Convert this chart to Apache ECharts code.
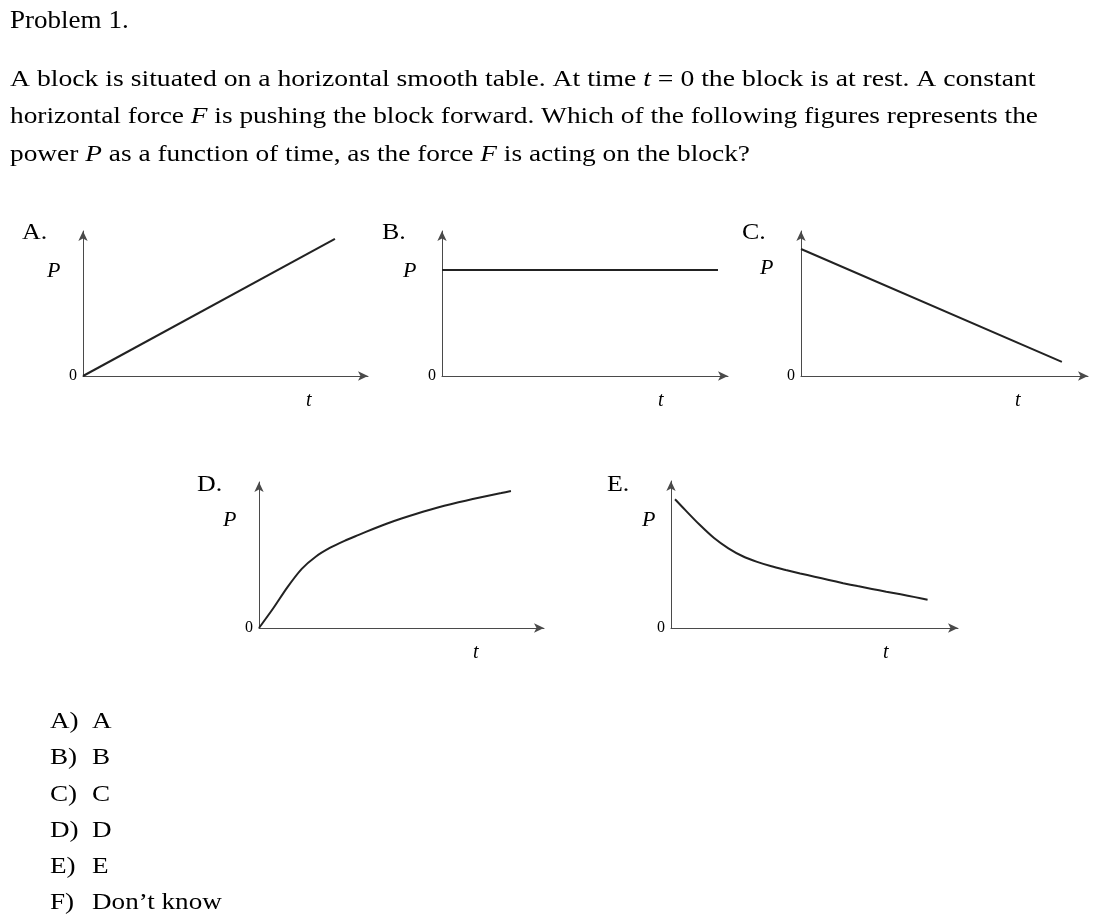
<!DOCTYPE html>
<html>
<head>
<meta charset="utf-8">
<script src="https://cdn.jsdelivr.net/npm/echarts@6/dist/echarts.min.js"></script>
<style>
html,body{margin:0;padding:0;background:#fff;}
#main{width:1109px;height:923px;}
</style>
</head>
<body>
<div id="main"></div>
<script>
// ---- data (axes run 0..10 in arbitrary units) ----
const panelNames = ['A.', 'B.', 'C.', 'D.', 'E.'];
const tA = [0, 8.84];
const pA = [0, 9.45];
const tB = [0, 9.65];
const pB = [7.31, 7.31];
const tC = [0, 9.09];
const pC = [8.76, 0.97];
const tD = [0, 0.5, 1.0, 1.5, 2.0, 2.5, 3.0, 3.5, 4.0, 4.5, 5.0, 5.5, 6.0, 6.5, 7.0, 7.5, 8.0, 8.5, 8.84];
const pD = [0, 1.35, 2.8, 4.05, 4.9, 5.5, 5.97, 6.38, 6.78, 7.16, 7.5, 7.81, 8.1, 8.37, 8.61, 8.83, 9.04, 9.24, 9.38];
const tE = [0.14, 0.5, 1.0, 1.5, 2.0, 2.5, 3.0, 3.5, 4.0, 4.5, 5.0, 5.5, 6.0, 6.5, 7.0, 7.5, 8.0, 8.5, 8.94];
const pE = [8.76, 8.02, 7.02, 6.12, 5.42, 4.88, 4.5, 4.2, 3.95, 3.71, 3.49, 3.27, 3.05, 2.85, 2.66, 2.47, 2.29, 2.1, 1.92];
const answers = [['A)', 'A'], ['B)', 'B'], ['C)', 'C'], ['D)', 'D'], ['E)', 'E'], ['F)', 'Don\u2019t know']];

const seriesT = [tA, tB, tC, tD, tE];
const seriesP = [pA, pB, pC, pD, pE];
const smoothFlags = [false, false, false, true, true];

// ---- layout ----
const grids = [
  {left: 83,  top: 231, width: 285, height: 145},
  {left: 442, top: 231, width: 286, height: 145},
  {left: 801, top: 231, width: 287, height: 145},
  {left: 259, top: 482, width: 285, height: 146},
  {left: 671, top: 481, width: 287, height: 147}
];
const labelPos = [
  {name: [22, 233], P: [47, 271], t: [306, 401]},
  {name: [382, 233], P: [403, 271], t: [658, 401]},
  {name: [742, 233], P: [760, 268], t: [1015, 401]},
  {name: [197, 485], P: [223, 520], t: [473, 653]},
  {name: [607, 485], P: [642, 520], t: [883, 653]}
];

const SERIF = '"Liberation Serif", "Times New Roman", serif';
const axisColor = '#4a4a4a';

function txt(x, y, text, size, opts) {
  opts = opts || {};
  return {
    type: 'text', x: x, y: y, silent: true,
    scaleX: opts.scaleX || 1,
    style: {
      text: text,
      fill: '#000',
      font: (opts.italic ? 'italic ' : '') + size + 'px ' + SERIF,
      verticalAlign: 'middle',
      align: opts.align || 'left',
      rich: {
        i: {fontStyle: 'italic', fontSize: size, fontFamily: SERIF, fill: '#000'}
      }
    }
  };
}

const xAxes = [], yAxes = [], series = [], graphics = [];
grids.forEach((g, k) => {
  xAxes.push({
    type: 'value', gridIndex: k, min: 0, max: 10, interval: 10,
    axisLine: {show: true, onZero: false, symbol: ['none', 'arrow'], symbolSize: [7, 10],
      lineStyle: {color: axisColor, width: 1}},
    axisTick: {show: false}, axisLabel: {show: false}, splitLine: {show: false}
  });
  yAxes.push({
    type: 'value', gridIndex: k, min: 0, max: 10, interval: 10,
    axisLine: {show: true, onZero: false, symbol: ['none', 'arrow'], symbolSize: [7, 10],
      lineStyle: {color: axisColor, width: 1}},
    axisTick: {show: false},
    axisLabel: {show: true, margin: 6, fontFamily: SERIF, fontSize: 16, color: '#000',
      formatter: v => (v === 0 ? '0' : '')},
    splitLine: {show: false}
  });
  series.push({
    type: 'line', xAxisIndex: k, yAxisIndex: k,
    data: seriesT[k].map((t, i) => [t, seriesP[k][i]]),
    showSymbol: false, smooth: smoothFlags[k] ? 0.3 : false,
    lineStyle: {color: '#222', width: 2}, silent: true, animation: false
  });
  const lp = labelPos[k];
  graphics.push(txt(lp.name[0], lp.name[1], panelNames[k], 24, {scaleX: 1.08}));
  graphics.push(txt(lp.P[0], lp.P[1], 'P', 22, {italic: true}));
  graphics.push(txt(lp.t[0], lp.t[1], 't', 20, {italic: true}));
});

// header text
graphics.push(txt(10, 21, 'Problem 1.', 26, {scaleX: 1.04}));
graphics.push(txt(10, 80, 'A block is situated on a horizontal smooth table. At time {i|t} = 0 the block is at rest. A constant', 24, {scaleX: 1.153}));
graphics.push(txt(10, 117, 'horizontal force {i|F} is pushing the block forward. Which of the following figures represents the', 24, {scaleX: 1.14}));
graphics.push(txt(10, 155, 'power {i|P} as a function of time, as the force {i|F} is acting on the block?', 24, {scaleX: 1.14}));

// answers
answers.forEach((a, i) => {
  const y = 722 + i * 36.2;
  graphics.push(txt(50, y, a[0], 24, {scaleX: 1.13}));
  graphics.push(txt(92, y, a[1], 24, {scaleX: 1.13}));
});

const chart = echarts.init(document.getElementById('main'), null, {renderer: 'canvas'});
chart.setOption({
  animation: false,
  backgroundColor: '#fff',
  grid: grids.map(g => Object.assign({containLabel: false}, g)),
  xAxis: xAxes,
  yAxis: yAxes,
  series: series,
  graphic: graphics
});
</script>
</body>
</html>
